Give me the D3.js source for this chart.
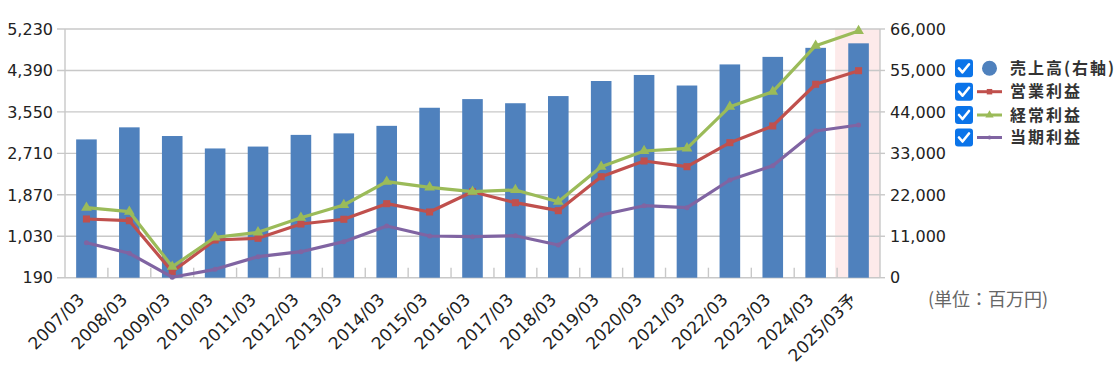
<!DOCTYPE html>
<html>
<head>
<meta charset="utf-8">
<script src="https://cdn.jsdelivr.net/npm/d3@7"></script>
<style>
  body { margin: 0; background: #fff; }
  svg text { font-family: "DejaVu Sans", "Noto Sans CJK JP", sans-serif; }
</style>
</head>
<body>
<script>
const categories = ["2007/03","2008/03","2009/03","2010/03","2011/03","2012/03","2013/03","2014/03","2015/03","2016/03","2017/03","2018/03","2019/03","2020/03","2021/03","2022/03","2023/03","2024/03","2025/03予"]

// 売上高 (right axis)
const sales = [36700,39900,37600,34300,34800,37900,38300,40300,45100,47400,46300,48200,52200,53800,51000,56600,58600,61000,62200]
// left axis series
const opIncome  = [1380,1345,312,954,989,1278,1374,1690,1522,1933,1710,1548,2237,2555,2440,2926,3265,4110,4385]
const ordIncome = [1610,1528,413,1009,1110,1406,1663,2136,2022,1933,1967,1730,2440,2758,2812,3656,3960,4892,5190]
const netIncome = [899,685,200,360,616,717,920,1238,1035,1021,1041,853,1461,1649,1609,2170,2460,3163,3285]

const leftTicks = [190,1030,1870,2710,3550,4390,5230]
const rightTicks = [0,11000,22000,33000,44000,55000,66000]

const legendNames = ["売上高(右軸)","営業利益","経常利益","当期利益"]

const W = 1120, H = 370
const plotL = 65, plotR = 880, plotT = 29, plotB = 277.7

const svg = d3.select("body")
  .append("svg")
  .attr("width", W)
  .attr("height", H)

const x = d3.scaleBand()
  .domain(categories)
  .range([plotL, plotR])

const yL = d3.scaleLinear()
  .domain([190, 5230])
  .range([plotB, plotT])

const yR = d3.scaleLinear()
  .domain([0, 66000])
  .range([plotB, plotT])

const fmt = d3.format(",")

// forecast band
svg.append("rect")
  .attr("x", x(categories[categories.length - 1]) - 2)
  .attr("y", plotT)
  .attr("width", x.bandwidth() + 2)
  .attr("height", plotB - plotT)
  .style("fill", "#fdeaea")

// gridlines
svg.append("g")
  .selectAll("line")
  .data(leftTicks)
  .enter()
  .append("line")
  .attr("x1", plotL - 8)
  .attr("x2", plotR)
  .attr("y1", d => yL(d))
  .attr("y2", d => yL(d))
  .style("stroke", "#c8c8c8")
  .style("stroke-width", 1.4)

// right ticks
svg.append("g")
  .selectAll("line")
  .data(rightTicks)
  .enter()
  .append("line")
  .attr("x1", plotR)
  .attr("x2", plotR + 5)
  .attr("y1", d => yR(d))
  .attr("y2", d => yR(d))
  .style("stroke", "#c8c8c8")
  .style("stroke-width", 1.4)

// axis lines
svg.append("line")
  .attr("x1", plotL).attr("x2", plotL)
  .attr("y1", plotT).attr("y2", plotB)
  .style("stroke", "#c8c8c8").style("stroke-width", 1.4)
svg.append("line")
  .attr("x1", plotR).attr("x2", plotR)
  .attr("y1", plotT).attr("y2", plotB)
  .style("stroke", "#c8c8c8").style("stroke-width", 1.4)

// category ticks (inside)
svg.append("g")
  .selectAll("line")
  .data(categories.slice(1))
  .enter()
  .append("line")
  .attr("x1", d => x(d))
  .attr("x2", d => x(d))
  .attr("y1", plotB - 10)
  .attr("y2", plotB)
  .style("stroke", "#c8c8c8")
  .style("stroke-width", 1.4)

// bars
const barW = x.bandwidth() * 0.48
svg.append("g")
  .selectAll("rect")
  .data(sales)
  .enter()
  .append("rect")
  .attr("x", (d, i) => x(categories[i]) + x.bandwidth() / 2 - barW / 2)
  .attr("y", d => yR(d))
  .attr("width", barW)
  .attr("height", d => plotB - yR(d))
  .style("fill", "#4f81bd")

// lines
const cx = i => x(categories[i]) + x.bandwidth() / 2
const line = d3.line()
  .x((d, i) => cx(i))
  .y(d => yL(d))

const series = [
  { data: opIncome, color: "#c0504d", marker: "square" },
  { data: ordIncome, color: "#9bbb59", marker: "triangle" },
  { data: netIncome, color: "#8064a2", marker: "circle" }
]

series.forEach(s => {
  svg.append("path")
    .datum(s.data)
    .attr("d", line)
    .style("fill", "none")
    .style("stroke", s.color)
    .style("stroke-width", 3.2)
    .style("stroke-linejoin", "round")

  const sym = s.marker === "square" ? d3.symbolSquare
    : s.marker === "triangle" ? d3.symbolTriangle : d3.symbolCircle
  const size = s.marker === "circle" ? 20 : 50
  svg.append("g")
    .selectAll("path")
    .data(s.data)
    .enter()
    .append("path")
    .attr("transform", (d, i) => `translate(${cx(i)},${yL(d)})`)
    .attr("d", d3.symbol().type(sym).size(size))
    .style("fill", s.color)
})

// left labels
svg.append("g")
  .selectAll("text")
  .data(leftTicks)
  .enter()
  .append("text")
  .attr("x", 53)
  .attr("y", d => yL(d))
  .attr("dy", "0.36em")
  .attr("text-anchor", "end")
  .style("font-size", "16px")
  .style("fill", "#222")
  .text(d => fmt(d))

// right labels
svg.append("g")
  .selectAll("text")
  .data(rightTicks)
  .enter()
  .append("text")
  .attr("x", 890)
  .attr("y", d => yR(d))
  .attr("dy", "0.36em")
  .style("font-size", "16px")
  .style("fill", "#222")
  .text(d => fmt(d))

// x labels
svg.append("g")
  .selectAll("text")
  .data(categories)
  .enter()
  .append("text")
  .attr("transform", (d, i) => `translate(${cx(i) - 1},${plotB + 23}) rotate(-45)`)
  .attr("text-anchor", "end")
  .style("font-size", "17px")
  .style("fill", "#222")
  .text(d => d)

// unit
svg.append("text")
  .attr("x", 928)
  .attr("y", 306)
  .style("font-size", "18px")
  .style("fill", "#666")
  .style("font-family", "'Noto Sans CJK JP', sans-serif")
  .text("(単位：百万円)")

// legend
const legend = svg.append("g").attr("id", "legend")
const rowY = [68.3, 91.7, 115, 137.5]
const legendColors = ["#4f81bd", "#c0504d", "#9bbb59", "#8064a2"]
const legendSyms = [null, d3.symbolSquare, d3.symbolTriangle, d3.symbolCircle]

legendNames.forEach((name, i) => {
  const y = rowY[i]
  legend.append("rect")
    .attr("x", 955).attr("y", y - 9)
    .attr("width", 18).attr("height", 18)
    .attr("rx", 3)
    .style("fill", "#0b74e9")
  legend.append("path")
    .attr("d", `M959,${y} L962.5,${y + 4} L969,${y - 4}`)
    .style("fill", "none")
    .style("stroke", "#fff")
    .style("stroke-width", 2.6)
    .style("stroke-linecap", "round")
    .style("stroke-linejoin", "round")
  if (i === 0) {
    legend.append("circle")
      .attr("cx", 989.5).attr("cy", y)
      .attr("r", 7.5)
      .style("fill", legendColors[i])
  } else {
    legend.append("line")
      .attr("x1", 977).attr("x2", 1002)
      .attr("y1", y).attr("y2", y)
      .style("stroke", legendColors[i])
      .style("stroke-width", 3)
    legend.append("path")
      .attr("transform", `translate(989.5,${y})`)
      .attr("d", d3.symbol().type(legendSyms[i]).size(i === 3 ? 14 : 30))
      .style("fill", legendColors[i])
  }
  legend.append("text")
    .attr("x", 1010).attr("y", y)
    .attr("dy", "0.36em")
    .style("font-size", "16px")
    .style("letter-spacing", "2px")
    .style("font-weight", "bold")
    .style("fill", "#333")
    .style("font-family", "'Noto Sans CJK JP', sans-serif")
    .text(name)
})
</script>
</body>
</html>
